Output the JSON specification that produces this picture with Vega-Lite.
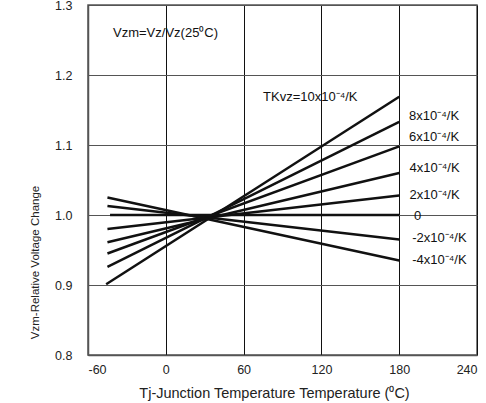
{
  "$schema": "https://vega.github.io/schema/vega-lite/v6.json",
  "width": 389,
  "height": 350,
  "autosize": "none",
  "padding": {"left": 88, "top": 5, "right": 9, "bottom": 48},
  "background": "white",
  "config": {
    "font": "Liberation Sans",
    "view": {"stroke": "#555", "strokeWidth": 1.5}
  },
  "datasets": {
    "lines": [
      {"tk": "10", "t": -46, "v": 0.901}, {"tk": "10", "t": 180, "v": 1.169},
      {"tk": "8", "t": -45, "v": 0.926}, {"tk": "8", "t": 180, "v": 1.133},
      {"tk": "6", "t": -45, "v": 0.945}, {"tk": "6", "t": 180, "v": 1.098},
      {"tk": "4", "t": -45, "v": 0.961}, {"tk": "4", "t": 180, "v": 1.060},
      {"tk": "2", "t": -45, "v": 0.980}, {"tk": "2", "t": 180, "v": 1.028},
      {"tk": "0", "t": -43, "v": 1.0}, {"tk": "0", "t": 180, "v": 1.0},
      {"tk": "-2", "t": -45, "v": 1.013}, {"tk": "-2", "t": 180, "v": 0.965},
      {"tk": "-4", "t": -45, "v": 1.025}, {"tk": "-4", "t": 180, "v": 0.935}
    ],
    "labels": [
      {"label": "Vzm=Vz/Vz(25⁰C)", "t": -40.7, "v": 1.26},
      {"label": "TKvz=10x10⁻⁴/K", "t": 75, "v": 1.169},
      {"label": "8x10⁻⁴/K", "t": 187.6, "v": 1.141},
      {"label": "6x10⁻⁴/K", "t": 187.6, "v": 1.112},
      {"label": "4x10⁻⁴/K", "t": 188, "v": 1.067},
      {"label": "2x10⁻⁴/K", "t": 188, "v": 1.029},
      {"label": "0", "t": 191.4, "v": 0.998},
      {"label": "-2x10⁻⁴/K", "t": 190, "v": 0.967},
      {"label": "-4x10⁻⁴/K", "t": 190, "v": 0.936}
    ]
  },
  "layer": [
    {
      "data": {"name": "lines"},
      "mark": {"type": "line", "color": "#111", "strokeWidth": 2.5},
      "encoding": {
        "x": {
          "field": "t", "type": "quantitative",
          "scale": {"domain": [-60, 240], "nice": false, "zero": false},
          "axis": {
            "values": [-60, 0, 60, 120, 180, 240],
            "labelExpr": "'' + datum.value",
            "ticks": false,
            "domain": true, "domainColor": "#555", "domainWidth": 1.5,
            "grid": true, "gridColor": "#111", "gridWidth": 1,
            "labelFontSize": 12.5, "labelColor": "#222", "labelPadding": 8,
            "labelBaseline": "top",
            "title": "Tj-Junction Temperature Temperature (⁰C)",
            "titleFontSize": 14.5, "titleFontWeight": "normal", "titleColor": "#222",
            "titleX": 186, "titleY": 38, "titleBaseline": "middle", "titleAlign": "center"
          }
        },
        "y": {
          "field": "v", "type": "quantitative",
          "scale": {"domain": [0.8, 1.3], "nice": false, "zero": false},
          "axis": {
            "values": [0.8, 0.9, 1.0, 1.1, 1.2, 1.3],
            "format": ".1f",
            "ticks": false,
            "domain": true, "domainColor": "#555", "domainWidth": 1.5,
            "grid": true, "gridColor": "#555", "gridWidth": 1.2,
            "labelFontSize": 12.5, "labelColor": "#222", "labelPadding": 16,
            "title": "Vzm-Relative Voltage Change",
            "titleFontSize": 11.5, "titleFontWeight": "normal", "titleColor": "#222",
            "titleX": -53, "titleY": 257, "titleBaseline": "middle", "titleAlign": "center"
          }
        },
        "detail": {"field": "tk", "type": "nominal"}
      }
    },
    {
      "data": {"name": "labels"},
      "mark": {"type": "text", "align": "left", "baseline": "middle", "fontSize": 13, "color": "#111"},
      "encoding": {
        "x": {"field": "t", "type": "quantitative"},
        "y": {"field": "v", "type": "quantitative"},
        "text": {"field": "label"}
      }
    }
  ]
}
